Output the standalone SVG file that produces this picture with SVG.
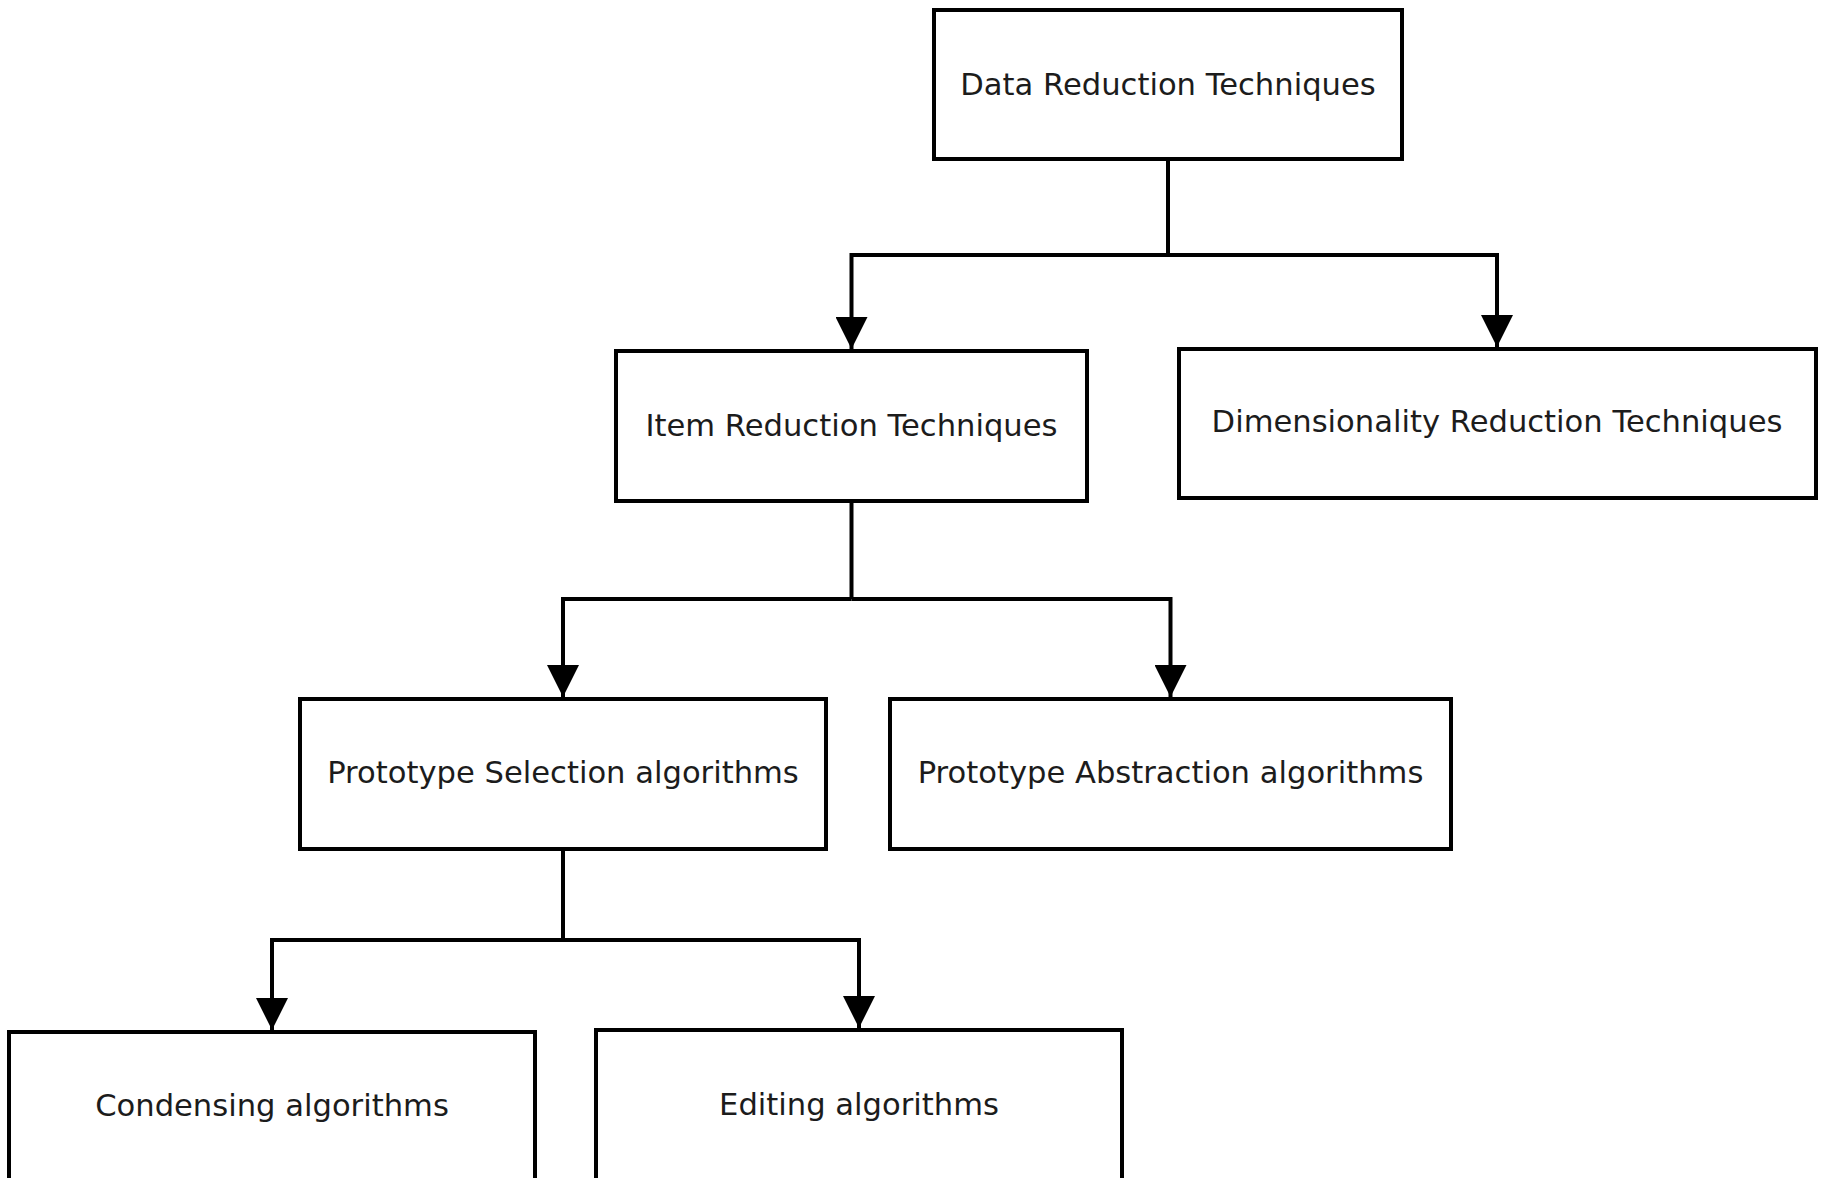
<svg xmlns="http://www.w3.org/2000/svg" width="1824" height="1178" viewBox="0 0 1824 1178">
  <style>
    .box { fill: #ffffff; stroke: #000000; stroke-width: 4; }
    .label { font-family: "DejaVu Sans", "Liberation Sans", sans-serif; font-size: 30.6px; fill: #1c1c1c; text-anchor: middle; }
    .link { fill: none; stroke: #000000; stroke-width: 4; stroke-linejoin: miter; }
  </style>
  <defs>
    <marker id="arrow" markerUnits="userSpaceOnUse" markerWidth="32" markerHeight="32" viewBox="0 0 30 30" refX="30" refY="15" orient="auto">
      <path d="M0,0 L30,15 L0,30 Z" fill="#000000"/>
    </marker>
  </defs>
  <rect width="1824" height="1178" fill="#ffffff"/>

  <g id="connectors">
    <!-- Data Reduction -> Item / Dimensionality -->
    <path class="link" d="M1168,159 V255"/>
    <path class="link" d="M1168,255 H851.5 V349" marker-end="url(#arrow)"/>
    <path class="link" d="M1168,255 H1497 V347" marker-end="url(#arrow)"/>
    <!-- Item Reduction -> Selection / Abstraction -->
    <path class="link" d="M851.5,501 V599"/>
    <path class="link" d="M851.5,599 H563 V697" marker-end="url(#arrow)"/>
    <path class="link" d="M851.5,599 H1170.5 V697" marker-end="url(#arrow)"/>
    <!-- Prototype Selection -> Condensing / Editing -->
    <path class="link" d="M563,849 V940"/>
    <path class="link" d="M563,940 H272 V1030" marker-end="url(#arrow)"/>
    <path class="link" d="M563,940 H859 V1028" marker-end="url(#arrow)"/>
  </g>

  <g id="data-reduction">
    <rect class="box" x="934" y="10" width="468" height="149"/>
    <text class="label" x="1168" y="95">Data Reduction Techniques</text>
  </g>

  <g id="item-reduction">
    <rect class="box" x="616" y="351" width="471" height="150"/>
    <text class="label" x="851.5" y="436">Item Reduction Techniques</text>
  </g>

  <g id="dimensionality-reduction">
    <rect class="box" x="1179" y="349" width="637" height="149"/>
    <text class="label" x="1497" y="432">Dimensionality Reduction Techniques</text>
  </g>

  <g id="prototype-selection">
    <rect class="box" x="300" y="699" width="526" height="150"/>
    <text class="label" x="563" y="783">Prototype Selection algorithms</text>
  </g>

  <g id="prototype-abstraction">
    <rect class="box" x="890" y="699" width="561" height="150"/>
    <text class="label" x="1170.5" y="783">Prototype Abstraction algorithms</text>
  </g>

  <g id="condensing">
    <rect class="box" x="9" y="1032" width="526" height="150"/>
    <text class="label" x="272" y="1116">Condensing algorithms</text>
  </g>

  <g id="editing">
    <rect class="box" x="596" y="1030" width="526" height="150"/>
    <text class="label" x="859" y="1115">Editing algorithms</text>
  </g>
</svg>
